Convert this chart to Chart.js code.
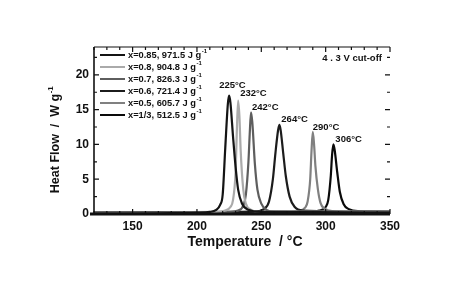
<!DOCTYPE html>
<html>
<head>
<meta charset="utf-8">
<script src="https://cdn.jsdelivr.net/npm/chart.js@4.4.1/dist/chart.umd.min.js"></script>
<style>
  html, body { margin: 0; padding: 0; background: #fff; }
  #wrap { width: 450px; height: 281px; position: relative; }
</style>
</head>
<body>
<div id="wrap"><canvas id="dsc-chart"></canvas></div>
<script>
const temperatureTicks = [150, 200, 250, 300, 350];
const heatFlowTicks = [0, 5, 10, 15, 20];

const seriesLabels = [
  'x=0.85, 971.5 J g',
  'x=0.8, 904.8 J g',
  'x=0.7, 826.3 J g',
  'x=0.6, 721.4 J g',
  'x=0.5, 605.7 J g',
  'x=1/3, 512.5 J g',
];
const seriesColors = ['#141414', '#aaaaaa', '#5e5e5e', '#1c1c1c', '#808080', '#0a0a0a'];
const peakLabels = ['225°C', '232°C', '242°C', '264°C', '290°C', '306°C'];

// temperature (°C) / heat flow (W/g)
const tempsA = [120, 170, 200, 210, 215, 218, 220, 222, 224, 225, 226, 228, 230, 232, 235, 240, 250, 350];
const flowA  = [0.05, 0.1, 0.2, 0.3, 0.6, 1.3, 2.8, 9.5, 15.8, 17, 16, 11.2, 6.8, 3.5, 1.5, 0.6, 0.3, 0.25];

const tempsB = [120, 200, 215, 222, 226, 228, 230, 231, 232, 233, 234, 236, 238, 242, 250, 350];
const flowB  = [0.1, 0.2, 0.3, 0.5, 1.0, 2.0, 6, 12, 16.3, 14, 9, 3.5, 1.5, 0.6, 0.3, 0.3];

const tempsC = [120, 200, 225, 232, 236, 238, 240, 241, 242, 243, 245, 247, 250, 254, 260, 350];
const flowC  = [0.1, 0.2, 0.3, 0.5, 1.2, 2.8, 7.5, 11.5, 14.6, 13.2, 7.2, 3.5, 1.5, 0.6, 0.35, 0.3];

const tempsD = [120, 220, 245, 252, 256, 259, 261, 263, 264, 265, 267, 269, 272, 276, 282, 350];
const flowD  = [0.15, 0.25, 0.35, 0.7, 1.8, 5, 8.8, 12, 12.8, 12.1, 8.8, 5.5, 2.5, 1.0, 0.5, 0.3];

const tempsE = [120, 230, 270, 280, 284, 286, 288, 289, 290, 291, 292, 294, 296, 299, 305, 350];
const flowE  = [0.2, 0.3, 0.35, 0.5, 0.9, 1.8, 5, 9, 11.8, 10, 7, 3.5, 1.6, 0.8, 0.4, 0.3];

const tempsF = [120, 250, 285, 295, 300, 302, 304, 305, 306, 307, 309, 311, 314, 318, 325, 350];
const flowF  = [0.2, 0.3, 0.35, 0.5, 1.0, 2.0, 5.5, 8.5, 10, 9.2, 6, 3.2, 1.4, 0.7, 0.4, 0.35];

const curveTemps = [tempsA, tempsB, tempsC, tempsD, tempsE, tempsF];
const curveFlows = [flowA, flowB, flowC, flowD, flowE, flowF];

const FONT = '"Liberation Sans", Arial, sans-serif';
const INK = '#111';

function toPoints(temps, flows) {
  return temps.map((t, i) => ({ x: t, y: flows[i] }));
}

function drawWithSup(ctx, text, sup, x, y, size) {
  ctx.font = `bold ${size}px ${FONT}`;
  ctx.fillText(text, x, y);
  const w = ctx.measureText(text).width;
  ctx.font = `bold ${Math.round(size * 0.62)}px ${FONT}`;
  ctx.fillText(sup, x + w + 0.5, y - size * 0.38);
}

const frameAndTicks = {
  id: 'frameAndTicks',
  afterDatasetsDraw(chart) {
    const { ctx, chartArea: a, scales } = chart;
    const xs = scales.x;
    const ys = scales.y;
    ctx.save();
    ctx.strokeStyle = INK;
    ctx.lineCap = 'butt';

    // frame
    ctx.lineWidth = 1.6;
    ctx.beginPath();
    ctx.moveTo(a.left, a.top);
    ctx.lineTo(a.left, a.bottom);
    ctx.stroke();
    ctx.lineWidth = 1.2;
    ctx.beginPath();
    ctx.moveTo(a.left, a.top);
    ctx.lineTo(a.right, a.top);
    ctx.stroke();
    ctx.lineWidth = 2.8;
    ctx.beginPath();
    ctx.moveTo(a.left - 4, a.bottom);
    ctx.lineTo(a.right, a.bottom);
    ctx.stroke();

    // inward ticks, minor every 10 on x, 2.5 on y
    ctx.lineWidth = 1.2;
    for (let t = xs.min; t <= xs.max; t += 10) {
      const px = xs.getPixelForValue(t);
      const major = t % 50 === 0;
      const len = major ? 5 : 3;
      ctx.beginPath();
      ctx.moveTo(px, a.top);
      ctx.lineTo(px, a.top + len);
      ctx.moveTo(px, a.bottom);
      ctx.lineTo(px, a.bottom - len);
      ctx.stroke();
    }
    for (let v = 0; v <= ys.max; v += 2.5) {
      const py = ys.getPixelForValue(v);
      const major = v % 5 === 0;
      const len = major ? 5 : 3;
      ctx.beginPath();
      ctx.moveTo(a.left, py);
      ctx.lineTo(a.left + len, py);
      ctx.moveTo(a.right, py);
      ctx.lineTo(a.right - len, py);
      ctx.stroke();
    }

    // peak labels above each curve maximum
    const labelDx = [-10, 2, 1, 2, 0, 2];
    const labelDy = [-10, -7, -5, -6, -5, -5];
    ctx.fillStyle = INK;
    ctx.font = `bold 9.5px ${FONT}`;
    ctx.textBaseline = 'middle';
    ctx.textAlign = 'left';
    chart.data.datasets.forEach((ds, i) => {
      const flows = curveFlows[i];
      const idx = flows.indexOf(Math.max(...flows));
      const pt = chart.getDatasetMeta(i).data[idx];
      ctx.fillText(peakLabels[i], pt.x + labelDx[i], pt.y + labelDy[i]);
    });

    // legend inside the plot
    chart.data.datasets.forEach((ds, i) => {
      const y = a.top + 8 + i * 12;
      ctx.strokeStyle = ds.borderColor;
      ctx.lineWidth = 2;
      ctx.beginPath();
      ctx.moveTo(a.left + 6, y);
      ctx.lineTo(a.left + 31, y);
      ctx.stroke();
      ctx.fillStyle = INK;
      drawWithSup(ctx, ds.label, '-1', a.left + 34, y, 9.3);
    });

    // cut-off note
    ctx.fillStyle = INK;
    ctx.font = `bold 9.5px ${FONT}`;
    ctx.textAlign = 'right';
    ctx.fillText('4 . 3 V cut-off', a.right - 8, a.top + 11);

    // axis titles
    ctx.textAlign = 'center';
    ctx.font = `bold 14px ${FONT}`;
    ctx.fillText('Temperature  / °C', (a.left + a.right) / 2 + 3, 242);

    ctx.translate(56, (a.top + a.bottom) / 2 + 10);
    ctx.rotate(-Math.PI / 2);
    ctx.textAlign = 'left';
    const title = 'Heat Flow  /  W g';
    ctx.font = `bold 12.5px ${FONT}`;
    const tw = ctx.measureText(title).width + 6;
    drawWithSup(ctx, title, '-1', -tw / 2, 0, 12.5);
    ctx.restore();
  },
};

const datasets = curveTemps.map((temps, i) => ({
  label: seriesLabels[i],
  data: toPoints(temps, curveFlows[i]),
  borderColor: seriesColors[i],
  borderWidth: 2.2,
  pointRadius: 0,
  fill: false,
  cubicInterpolationMode: 'monotone',
}));

new Chart(document.getElementById('dsc-chart'), {
  type: 'line',
  data: { datasets },
  plugins: [frameAndTicks],
  options: {
    responsive: true,
    maintainAspectRatio: false,
    animation: false,
    layout: { padding: { top: 47, right: 60, left: 0, bottom: 0 } },
    plugins: {
      legend: { display: false },
      tooltip: { enabled: false },
    },
    scales: {
      x: {
        type: 'linear',
        min: 120,
        max: 350,
        grid: { display: false, drawTicks: false },
        border: { display: false },
        afterBuildTicks: (scale) => { scale.ticks = temperatureTicks.map((v) => ({ value: v })); },
        afterFit: (scale) => { scale.height = 67; },
        ticks: { padding: 5, color: INK, font: { family: FONT, size: 12, weight: 'bold' } },
      },
      y: {
        min: 0,
        max: 24,
        grid: { display: false, drawTicks: false },
        border: { display: false },
        afterBuildTicks: (scale) => { scale.ticks = heatFlowTicks.map((v) => ({ value: v })); },
        afterFit: (scale) => { scale.width = 94; },
        ticks: { padding: 5, color: INK, font: { family: FONT, size: 12, weight: 'bold' } },
      },
    },
  },
});
</script>
</body>
</html>
